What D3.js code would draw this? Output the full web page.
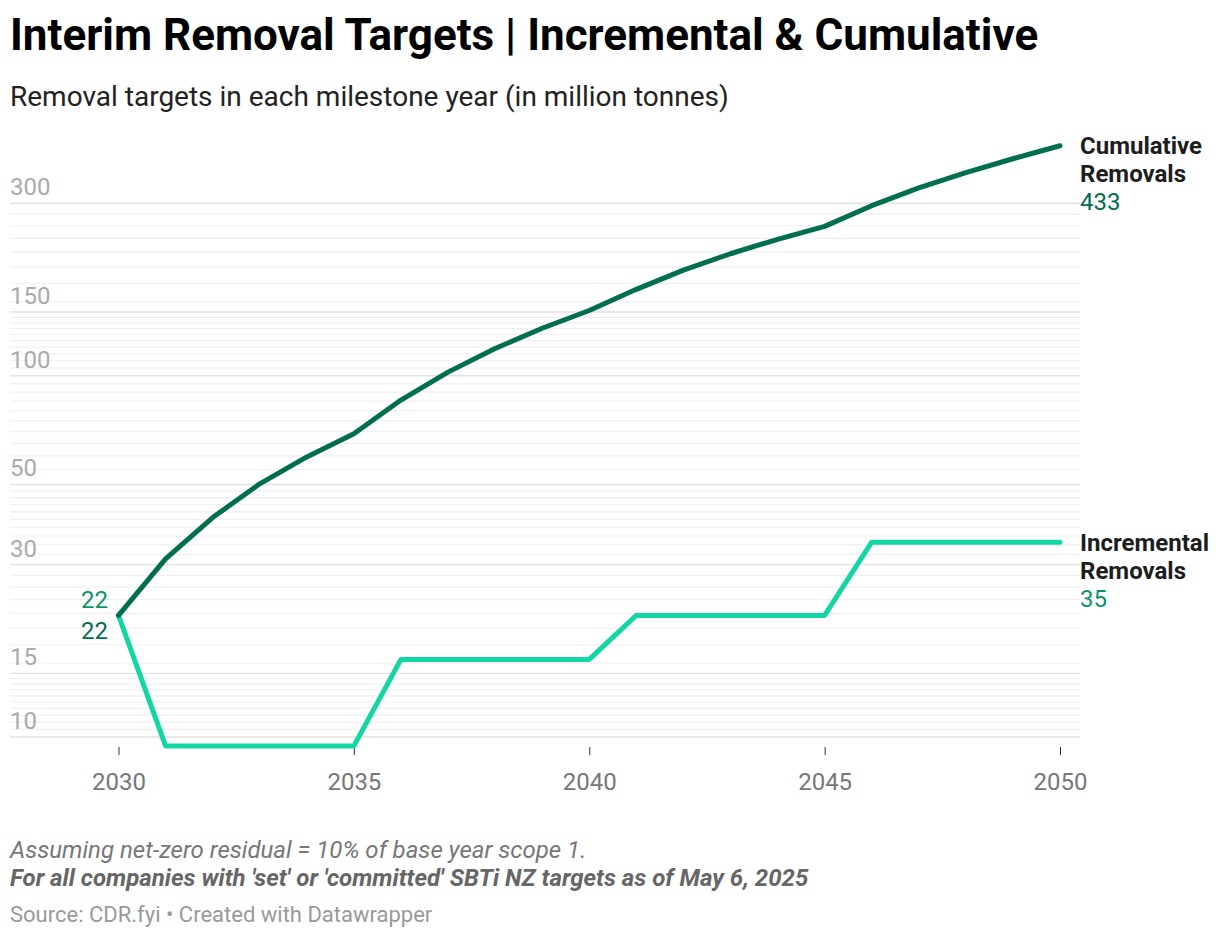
<!DOCTYPE html>
<html>
<head>
<meta charset="utf-8">
<script src="https://cdn.jsdelivr.net/npm/d3@7"></script>
<style>
  body { margin: 0; background: #fff; font-family: Roboto, "Noto Sans", sans-serif; }
</style>
</head>
<body>
<svg id="chart" width="1220" height="938"></svg>
<script>
// Data (million tonnes)
const years = d3.range(2030, 2051);
const cumulative = [21.7, 31.1, 40.5, 50.2, 59.6, 69.1, 85.6, 102.3, 118.9, 135.3, 151.5,
                    173.4, 196.0, 217.5, 238.5, 259.0, 295.5, 331.0, 364.5, 398.5, 433];
const incremental = [21.7, 9.45, 9.45, 9.45, 9.45, 9.45, 16.4, 16.4, 16.4, 16.4, 16.4,
                     21.7, 21.7, 21.7, 21.7, 21.7, 34.6, 34.6, 34.6, 34.6, 34.6];
const yTicks = [10, 15, 30, 50, 100, 150, 300];
const xTicks = [2030, 2035, 2040, 2045, 2050];

const svg = d3.select("#chart");

// Scales
const x = d3.scaleLinear().domain([2030, 2050]).range([118.5, 1060]);
const y = d3.scaleLog().domain([10, 300]).range([737, 203.3]);

// Title & subtitle
svg.append("text")
    .attr("x", 10).attr("y", 50)
    .style("font-size", "44px").style("font-weight", 700).style("fill", "#000")
    .text("Interim Removal Targets | Incremental & Cumulative");

svg.append("text")
    .attr("x", 10).attr("y", 106)
    .style("font-size", "28px").style("fill", "#222")
    .text("Removal targets in each milestone year (in million tonnes)");

// Gridlines: minor lines between each pair of major ticks
const minor = [];
for (let i = 0; i < yTicks.length - 1; i++) {
    d3.ticks(yTicks[i], yTicks[i + 1], 10).forEach(t => {
        if (!yTicks.includes(t)) minor.push(t);
    });
}

const grid = svg.append("g");
grid.selectAll(".minor")
    .data(minor)
    .enter().append("line")
    .attr("x1", 10).attr("x2", 1080)
    .attr("y1", d => y(d)).attr("y2", d => y(d))
    .attr("stroke", "#f0f0f0").attr("stroke-width", 1.2);

grid.selectAll(".major")
    .data(yTicks)
    .enter().append("line")
    .attr("x1", 10).attr("x2", 1080)
    .attr("y1", d => y(d)).attr("y2", d => y(d))
    .attr("stroke", "#e2e2e2").attr("stroke-width", 1.4);

// Y labels sit above their gridline
svg.append("g").selectAll("text")
    .data(yTicks)
    .enter().append("text")
    .attr("x", 10).attr("y", d => y(d) - 8)
    .style("font-size", "24px").style("fill", "#aaa")
    .text(d => d);

// X axis: ticks only, no baseline
const xAxis = svg.append("g")
    .attr("transform", "translate(0,747)")
    .call(d3.axisBottom(x).tickValues(xTicks).tickFormat(d3.format("d")).tickSize(8).tickPadding(18));
xAxis.select(".domain").remove();
xAxis.selectAll("line").attr("stroke", "#333");
xAxis.selectAll("text")
    .style("font-family", "Roboto, sans-serif")
    .style("font-size", "24px").style("fill", "#777");

// Lines
const line = values => d3.line()
    .x((d, i) => x(years[i]))
    .y(d => y(d))(values);

svg.append("path")
    .attr("d", line(incremental))
    .attr("fill", "none").attr("stroke", "#12d6a3")
    .attr("stroke-width", 5).attr("stroke-linejoin", "round").attr("stroke-linecap", "round");

svg.append("path")
    .attr("d", line(cumulative))
    .attr("fill", "none").attr("stroke", "#006e4f")
    .attr("stroke-width", 5).attr("stroke-linejoin", "round").attr("stroke-linecap", "round");

// Start labels
svg.append("text")
    .attr("x", 108).attr("y", y(incremental[0]) - 7)
    .attr("text-anchor", "end")
    .style("font-size", "24px").style("fill", "#0a9469")
    .text(Math.round(incremental[0]));

svg.append("text")
    .attr("x", 108).attr("y", y(cumulative[0]) + 24)
    .attr("text-anchor", "end")
    .style("font-size", "24px").style("fill", "#006e4f")
    .text(Math.round(cumulative[0]));

// End labels
function endLabel(lines, value, yPos, color) {
    const g = svg.append("g");
    lines.forEach((t, i) => {
        g.append("text")
            .attr("x", 1080).attr("y", yPos + 8.5 + i * 28)
            .style("font-size", "24px").style("font-weight", 700).style("fill", "#1d1d1d")
            .text(t);
    });
    g.append("text")
        .attr("x", 1080).attr("y", yPos + 8.5 + lines.length * 28)
        .style("font-size", "24px").style("fill", color)
        .text(Math.round(value));
}
endLabel(["Cumulative", "Removals"], cumulative[cumulative.length - 1], y(cumulative[cumulative.length - 1]), "#006e4f");
endLabel(["Incremental", "Removals"], incremental[incremental.length - 1], y(incremental[incremental.length - 1]), "#0a9469");

// Notes
svg.append("text")
    .attr("x", 10).attr("y", 858)
    .style("font-size", "24px").style("font-style", "italic").style("fill", "#777")
    .text("Assuming net-zero residual = 10% of base year scope 1.");

svg.append("text")
    .attr("x", 10).attr("y", 886)
    .style("font-size", "24px").style("font-style", "italic").style("font-weight", 700).style("fill", "#666")
    .text("For all companies with 'set' or 'committed' SBTi NZ targets as of May 6, 2025");

svg.append("text")
    .attr("x", 10).attr("y", 922)
    .style("font-size", "22px").style("fill", "#999")
    .text("Source: CDR.fyi • Created with Datawrapper");
</script>
</body>
</html>
